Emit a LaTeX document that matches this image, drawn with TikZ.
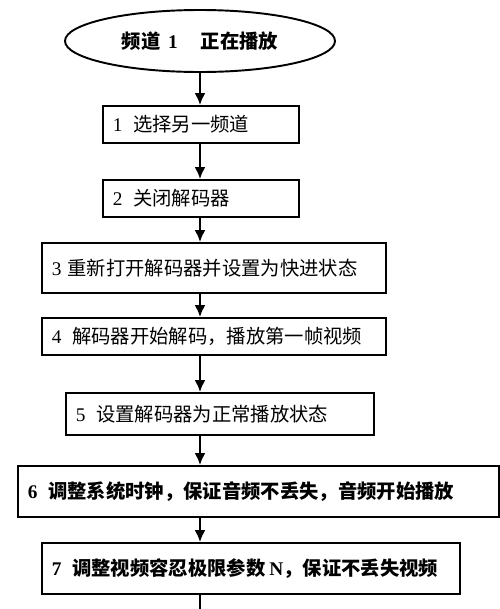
\documentclass[tikz,border=0pt]{standalone}
\usepackage{fontspec}
\setmainfont{Liberation Serif}
\newfontfamily\cjk{Noto Sans CJK SC}
\usetikzlibrary{arrows.meta,shapes.geometric,positioning}

\begin{document}
\begin{tikzpicture}[proc/.style={rectangle, draw, line width=1.1pt, inner xsep=0.2cm, inner ysep=0pt, align=left, anchor=west, font=\fontsize{11}{13}\cjk},
  final/.style={font=\fontsize{11}{13}\cjk\bfseries},
  flow/.style={-{Latex[length=2.4mm,width=2.2mm]}, line width=1.1pt}]
    \useasboundingbox (0,0) rectangle (10,-12.18);
    \node[ellipse, draw, line width=1.1pt, minimum width=5.4cm, minimum height=1.24cm, final] (top) at (4,-0.82) {频道\hspace{0.4em}\textrm{1}\hspace{1.2em}正在播放};
    \node[proc, text width=3.52cm, minimum height=0.74cm] (s1) at (2.04,-2.49) {\textrm{1}\hspace{0.55em}选择另一频道};
    \draw[flow] (top) -- (top |- s1.north);
    \node[proc, text width=3.52cm, minimum height=0.74cm] (s2) at (2.04,-3.97) {\textrm{2}\hspace{0.55em}关闭解码器};
    \draw[flow] (top |- s1.south) -- (top |- s2.north);
    \node[proc, text width=6.48cm, minimum height=1.0cm] (s3) at (0.82,-5.36) {\textrm{3}\hspace{0.3em}重新打开解码器并设置为快进状态};
    \draw[flow] (top |- s2.south) -- (top |- s3.north);
    \node[proc, text width=6.48cm, minimum height=0.74cm] (s4) at (0.82,-6.73) {\textrm{4}\hspace{0.55em}解码器开始解码，播放第一帧视频};
    \draw[flow] (top |- s3.south) -- (top |- s4.north);
    \node[proc, text width=5.76cm, minimum height=0.84cm] (s5) at (1.30,-8.28) {\textrm{5}\hspace{0.55em}设置解码器为正常播放状态};
    \draw[flow] (top |- s4.south) -- (top |- s5.north);
    \node[proc, text width=9.22cm, minimum height=1.02cm, final] (s6) at (0.34,-9.83) {\textrm{6}\hspace{0.55em}调整系统时钟，保证音频不丢失，音频开始播放};
    \draw[flow] (top |- s5.south) -- (top |- s6.north);
    \node[proc, text width=7.96cm, minimum height=1.02cm, final] (s7) at (0.82,-11.37) {\textrm{7}\hspace{0.55em}调整视频容忍极限参数\hspace{0.2em}\textrm{N}，保证不丢失视频};
    \draw[flow] (top |- s6.south) -- (top |- s7.north);
    \coordinate (out) at (4,-12.18);
    \draw[line width=1.1pt] (top |- s7.south) -- (out);
\end{tikzpicture}
\end{document}
